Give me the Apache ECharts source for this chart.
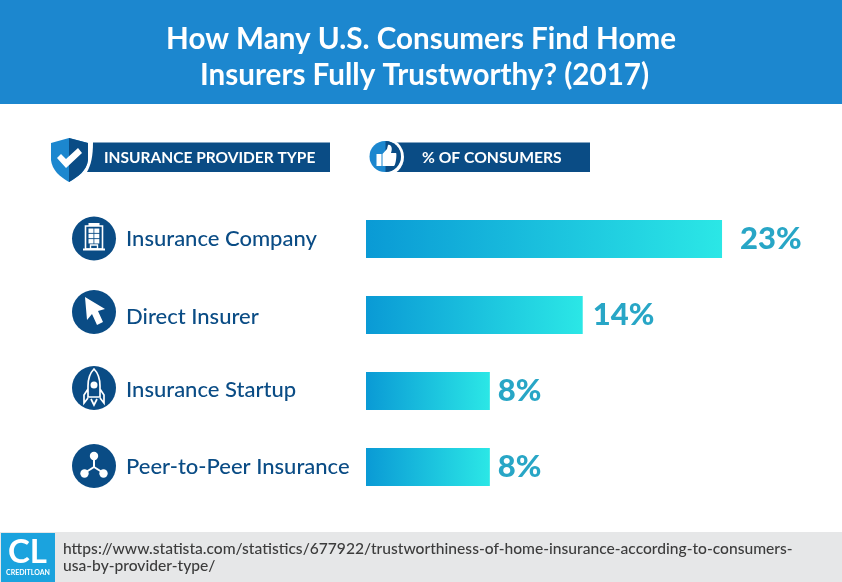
<!DOCTYPE html>
<html><head><meta charset="utf-8">
<style>html,body{margin:0;padding:0;background:#fff}#c{width:842px;height:582px}</style>
<script src="https://cdn.jsdelivr.net/npm/echarts@6/dist/echarts.min.js"></script>
</head><body><div id="c"></div>
<script>
const categories = ['Insurance Company','Direct Insurer','Insurance Startup','Peer-to-Peer Insurance'];
const values = [23,14,8,8];
const titleLines = 'How Many U.S. Consumers Find Home\n Insurers Fully Trustworthy? (2017)';
const headerLeft = 'INSURANCE PROVIDER TYPE';
const headerRight = '% OF CONSUMERS';
const sourceText = 'https://www.statista.com/statistics/677922/trustworthiness-of-home-insurance-according-to-consumers-\nusa-by-provider-type/';

const FONT = 'Lato';
const NAVY = '#0a4c85';
const BLUE = '#1c87cf';
const labelGaps = [18,10,8,8];
const labelPads = [[0,0,0,0],[4,0,0,0],[0,0,2,0],[0,0,0,0]];
const iconNudge = [-0.5,-3,-3,-1];
const chart = echarts.init(document.getElementById('c'), null, {renderer:'canvas'});

let pathId = 0;
function P(d, style){
  const name = 'iconPath' + (pathId++);
  echarts.graphic.registerShape(name, echarts.graphic.extendPath(d, {}));
  return {type:name, shape:{}, style};
}

const labelRich = {};
labelPads.forEach((p,i)=>{
  labelRich['r'+i] = {color:NAVY,fontFamily:FONT,fontSize:22,fontWeight:500,padding:p};
});

chart.setOption({
  animation:false,
  backgroundColor:'#fff',
  textStyle:{fontFamily:FONT},
  grid:{left:366,top:201,width:464.4,height:304,containLabel:false,outerBoundsMode:'none'},
  xAxis:{type:'value',min:0,max:30,show:false},
  yAxis:{type:'category',inverse:true,
    data:categories,
    axisLine:{show:false},axisTick:{show:false},splitLine:{show:false},
    axisLabel:{margin:240,align:'left',color:NAVY,fontFamily:FONT,fontSize:22,fontWeight:500,
      formatter:(v,i)=>'{r'+i+'|'+v+'}',rich:labelRich}},
  series:[{type:'bar',data:values.map((v,i)=>({value:v,label:{distance:labelGaps[i]}})),barWidth:38,silent:true,
    itemStyle:{color:new echarts.graphic.LinearGradient(0,0,1,0,[{offset:0,color:'#0a9ad5'},{offset:1,color:'#2be7e6'}])},
    label:{show:true,position:'right',formatter:p=>p.value+'%',
      color:'#28a6c6',fontFamily:FONT,fontWeight:900,fontSize:31}}]
});

function iconGroup(kind,cx,cy){
  const ch=[{type:'circle',shape:{cx:0,cy:0,r:22},style:{fill:NAVY}}];
  const W='#fff';
  if(kind===0){
    ch.push({type:'rect',shape:{x:-8.5,y:-12.5,width:17,height:23},style:{fill:null,stroke:W,lineWidth:1.6}});
    ch.push({type:'rect',shape:{x:-5.5,y:-15.5,width:11,height:3},style:{fill:W}});
    ch.push({type:'rect',shape:{x:-11,y:10,width:22,height:2},style:{fill:W}});
    for(let r=0;r<3;r++)for(let c=0;c<2;c++)
      ch.push({type:'rect',shape:{x:-5.5+c*5.8,y:-10+r*5.3,width:5,height:4.4},style:{fill:W}});
    ch.push({type:'rect',shape:{x:-3.5,y:6.5,width:7,height:4},style:{fill:null,stroke:W,lineWidth:1.4}});
  } else if(kind===1){
    ch.push({type:'polygon',shape:{points:[[-9,-15],[11,-3],[4,-1],[9,10],[3,13],[-2,2],[-7,8]]},style:{fill:W}});
  } else if(kind===2){
    ch.push(P('M0,-19 C5,-14 6,-8 6,-2 L6,9 L-6,9 L-6,-2 C-6,-8 -5,-14 0,-19 Z M-6,1 L-10,7 L-10,15 L-6,10 M6,1 L10,7 L10,15 L6,10 M-3,11 L0,17 L3,11',{fill:null,stroke:W,lineWidth:1.7}));
    ch.push({type:'circle',shape:{cx:0,cy:-3,r:3.5},style:{fill:W}});
  } else {
    ch.push({type:'line',shape:{x1:0,y1:-10,x2:0,y2:1},style:{stroke:W,lineWidth:2}});
    ch.push({type:'line',shape:{x1:0,y1:1,x2:-9.5,y2:7},style:{stroke:W,lineWidth:2}});
    ch.push({type:'line',shape:{x1:0,y1:1,x2:9.5,y2:7},style:{stroke:W,lineWidth:2}});
    ch.push({type:'circle',shape:{cx:0,cy:-10,r:4.2},style:{fill:W}});
    ch.push({type:'circle',shape:{cx:-9.5,cy:7.5,r:4.2},style:{fill:W}});
    ch.push({type:'circle',shape:{cx:9.5,cy:7.5,r:4.2},style:{fill:W}});
  }
  return {type:'group',x:cx,y:cy,children:ch};
}

const icons = categories.map((c,i)=>iconGroup(i,94,chart.convertToPixel({yAxisIndex:0},c)+iconNudge[i]));

chart.setOption({graphic:{elements:[
  {type:'rect',shape:{x:0,y:0,width:842,height:104},style:{fill:BLUE},z:0},
  {type:'text',x:421,y:57.5,style:{text:titleLines,fill:'#fff',font:'700 29.6px '+FONT,align:'center',verticalAlign:'middle',lineHeight:36}},

  P('M93,142.5 L330,142.5 L330,172 L87,172 C91,165 93,156 93,142.5 Z',{fill:NAVY}),
  P('M51,143 L69,138 L88,143 L88,160 C87,170 78,177 69,182 C60,177 52,170 51,160 Z',{fill:BLUE}),
  P('M69,138 L88,143 L88,160 C87,170 78,177 69,182 Z',{fill:NAVY}),
  P('M57,158 L61,154 L66,159 L78,148 L82,153 L66,168 Z',{fill:'#fff'}),
  {type:'text',x:104,y:157.5,style:{text:headerLeft,fill:'#fff',font:'700 15.5px '+FONT,verticalAlign:'middle'}},

  {type:'rect',shape:{x:396,y:142.5,width:194,height:29.5},style:{fill:NAVY}},
  {type:'circle',shape:{cx:385,cy:157,r:19},style:{fill:'#fff'}},
  {type:'circle',shape:{cx:385,cy:156.5,r:15.5},style:{fill:BLUE}},
  P('M385.5,141 A15.5,15.5 0 0 1 385.5,172 Z',{fill:NAVY}),
  {type:'rect',shape:{x:376.5,y:154,width:5,height:12},style:{fill:'#fff'}},
  P('M382.5,154 L387,149 L388,145 C391,144 393,148 391,153 L396,153 C397,153 396,165 394,166 L382.5,166 Z',{fill:'#fff'}),
  {type:'text',x:422,y:157.5,style:{text:headerRight,fill:'#fff',font:'700 15.7px '+FONT,verticalAlign:'middle'}},

  ...icons,

  {type:'rect',shape:{x:0,y:532,width:842,height:50},style:{fill:'#e6e7e8'}},
  {type:'rect',shape:{x:1,y:533,width:54,height:49},style:{fill:'#1ba3de'}},
  {type:'text',x:27.5,y:552,style:{text:'CL',fill:'#fff',font:'700 33px '+FONT,align:'center',verticalAlign:'middle'}},
  {type:'text',x:28,y:573,style:{text:'CREDITLOAN',fill:'#fff',font:'700 7px '+FONT,align:'center',verticalAlign:'middle'}},
  {type:'text',x:63,y:557,style:{text:sourceText,fill:'#3c3c3c',font:'500 15.6px '+FONT,verticalAlign:'middle',lineHeight:17}}
]}});
</script></body></html>
